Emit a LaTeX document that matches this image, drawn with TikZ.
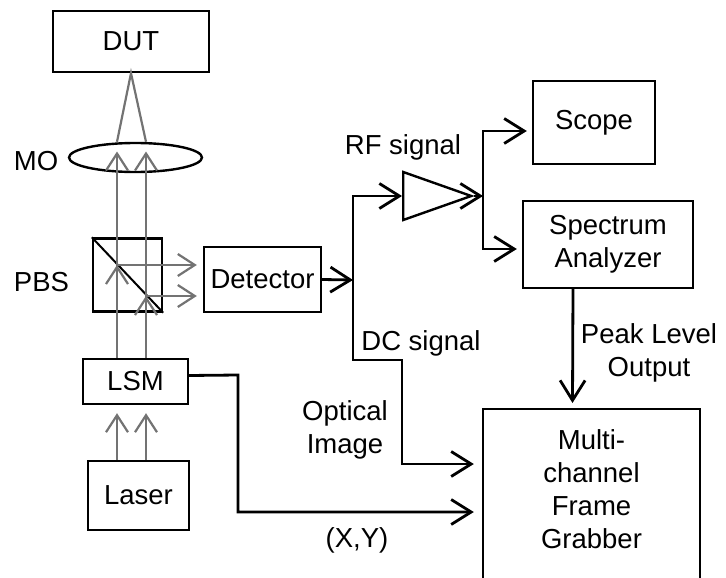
\documentclass[tikz,border=0pt]{standalone}
\usepackage{fontspec}
\setmainfont{Liberation Sans}
\usetikzlibrary{arrows.meta,shapes.geometric,calc}
\definecolor{beamgray}{gray}{0.45}

\begin{document}
\begin{tikzpicture}[x=1pt,y=-1pt,
  font=\fontsize{27.5}{33}\selectfont,
  box/.style={draw,line width=2.4pt,inner sep=0pt},
  sig/.style={line width=2.8pt,-{Straight Barb[length=20pt,width=25pt]}},
  beam/.style={draw=beamgray,line width=2.2pt,-{Straight Barb[length=17pt,width=22pt]}},
  ray/.style={draw=beamgray,line width=2.2pt}]
\useasboundingbox (0,0) rectangle (726,578);
\clip (0,0) rectangle (726,578);

\node[box,minimum width=156pt,minimum height=61pt] (dut) at (131,41.5) {DUT};
\node[box,ellipse,minimum width=133pt,minimum height=29pt] (mo) at (135.5,157.5) {};
\node[box,minimum width=69pt,minimum height=73pt] (pbs) at (127.5,275) {};
\node[box,minimum width=117pt,minimum height=65pt] (det) at (262.5,279.5) {Detector};
\node[box,minimum width=105pt,minimum height=45pt] (lsm) at (135.5,381.5) {LSM};
\node[box,minimum width=101pt,minimum height=69pt] (laser) at (138.5,495.5) {Laser};
\node[box,isosceles triangle,isosceles triangle stretches,minimum width=48pt,minimum height=68pt,anchor=west] (amp) at (402,196) {};
\node[box,minimum width=122pt,minimum height=83pt] (scope) at (594,122.5) {Scope};
\node[box,minimum width=170pt,minimum height=87pt,align=center] (spec) at (608,244.5) {Spectrum\\Analyzer};
\node[box,minimum width=217pt,minimum height=190pt,anchor=north] (fg) at (591.5,408) {};
\node[align=center] (fgtxt) at (591.5,489) {Multi-\\channel\\Frame\\Grabber};

\node (molabel) at (36,161) {MO};
\node (pbslabel) at (41.5,282) {PBS};
\node (rf) at (403,147) {RF signal};
\node (dc) at (421,343) {DC signal};
\node[align=center] (opt) at (345,430) {Optical\\Image};
\node (xy) at (357,540) {(X,Y)};
\node[align=center] (peak) at (649,353) {Peak Level\\Output};

\coordinate (b1) at (117,0);
\coordinate (b2) at (146,0);
\coordinate (r1) at (117,265);
\coordinate (r2) at (146,296);
\coordinate (j1) at (353,280);
\coordinate (j2) at (483,196);
\coordinate (k1) at (402,360);
\coordinate (k2) at (238,375);

\draw[line width=2pt] (pbs.north west) -- (pbs.south east);
\draw[beam] (laser.north -| b1) -- ($(lsm.south -| b1)+(0,8)$);
\draw[beam] (laser.north -| b2) -- ($(lsm.south -| b2)+(0,8)$);
\draw[beam] (lsm.north -| b1) -- ($(mo.center -| b1)+(0,-6)$);
\draw[beam] (lsm.north -| b2) -- ($(mo.center -| b2)+(0,-6)$);
\draw[ray] (mo.north -| b1) -- (dut.south) -- (mo.north -| b2);
\draw[beam] ($(r1)+(0,20)$) -- (r1);
\draw[beam] ($(r2)+(0,20)$) -- (r2);
\draw[beam] (r1) -- ($(det.west |- r1)+(-6,0)$);
\draw[beam] (r2) -- ($(det.west |- r2)+(-6,0)$);

\draw[sig] (det.east) -- (j1);
\draw[sig] (j1) |- (amp.west);
\draw[sig] (j1) |- (k1) |- ($(fg.north west)+(-8,56)$);
\draw[sig] (amp.east) -- (j2);
\draw[sig] (j2) |- ($(scope.west)+(-5,8.5)$);
\draw[sig] (j2) |- ($(spec.west)+(-5,4.5)$);
\draw[sig] ($(spec.south)+(-35,0)$) -- ($(fg.north)+(-19,-5)$);
\draw[sig] ($(lsm.east)+(0,-6)$) -- (k2) |- ($(fg.north west)+(-8,104)$);
\end{tikzpicture}
\end{document}
